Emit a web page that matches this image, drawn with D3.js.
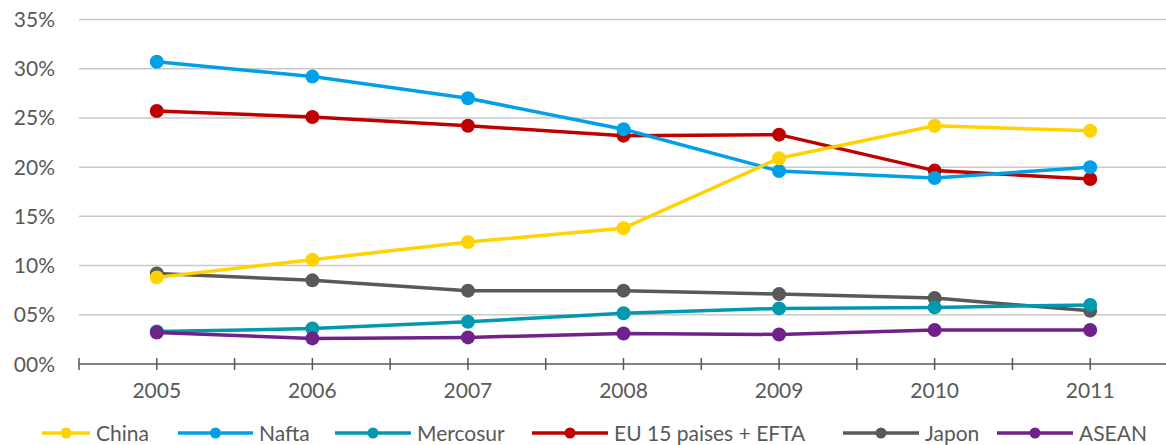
<!DOCTYPE html>
<html>
<head>
<meta charset="utf-8">
<script src="https://cdn.jsdelivr.net/npm/d3@7"></script>
<style>
  body { margin: 0; background: #fff; }
  text { font-family: "Lato", "DejaVu Sans", sans-serif; fill: #595959; }
</style>
</head>
<body>
<svg id="chart" width="1166" height="445"></svg>
<script>
// data
let years = ["2005", "2006", "2007", "2008", "2009", "2010", "2011"];
let yTicks = [0, 5, 10, 15, 20, 25, 30, 35];
let yTickLabels = ["00%", "05%", "10%", "15%", "20%", "25%", "30%", "35%"];

let china = [8.8, 10.6, 12.4, 13.8, 20.9, 24.2, 23.7];
let nafta = [30.7, 29.2, 27.0, 23.85, 19.6, 18.9, 20.0];
let mercosur = [3.3, 3.6, 4.3, 5.15, 5.65, 5.75, 6.0];
let eu = [25.7, 25.1, 24.2, 23.2, 23.3, 19.65, 18.8];
let japon = [9.2, 8.5, 7.45, 7.45, 7.1, 6.7, 5.4];
let asean = [3.2, 2.6, 2.7, 3.1, 3.0, 3.45, 3.45];

let seriesNames = ["China", "Nafta", "Mercosur", "EU 15 paises + EFTA", "Japon", "ASEAN"];
let seriesValues = [china, nafta, mercosur, eu, japon, asean];
let seriesColors = ["#ffd200", "#00a0e6", "#0099b0", "#c00000", "#595959", "#70228a"];
// order in which lines are painted (bottom first)
let drawOrder = [4, 3, 1, 0, 2, 5];

let svg = d3.select("#chart");

let x = d3.scaleBand()
    .domain(years)
    .range([79, 1168]);

let y = d3.scaleLinear()
    .domain([0, 35])
    .range([364, 19.5]);

// gridlines
svg.append("g")
    .selectAll("line")
    .data(yTicks.filter(d => d > 0))
    .join("line")
    .attr("x1", 79)
    .attr("x2", 1166)
    .attr("y1", d => y(d))
    .attr("y2", d => y(d))
    .attr("stroke", "#c9c9c9")
    .attr("stroke-width", 1.5);

// y labels
svg.append("g")
    .selectAll("text")
    .data(yTicks)
    .join("text")
    .attr("x", 55)
    .attr("y", d => y(d))
    .attr("dy", "0.36em")
    .attr("text-anchor", "end")
    .style("font-size", "21px")
    .text((d, i) => yTickLabels[i]);

// x axis with ticks at band edges and centres
let xAxis = svg.append("g");
xAxis.append("line")
    .attr("x1", 79).attr("x2", 1166)
    .attr("y1", y(0)).attr("y2", y(0))
    .attr("stroke", "#595959").attr("stroke-width", 1.5);

let tickXs = years.map(d => x(d)).concat(years.map(d => x(d) + x.bandwidth() / 2));
xAxis.selectAll("line.tick")
    .data(tickXs)
    .join("line")
    .attr("class", "tick")
    .attr("x1", d => d).attr("x2", d => d)
    .attr("y1", y(0) - 6).attr("y2", y(0) + 6)
    .attr("stroke", "#595959").attr("stroke-width", 1.5);

xAxis.selectAll("text")
    .data(years)
    .join("text")
    .attr("x", d => x(d) + x.bandwidth() / 2)
    .attr("y", 398)
    .attr("text-anchor", "middle")
    .style("font-size", "21px")
    .text(d => d);

let line = d3.line()
    .x((d, i) => x(years[i]) + x.bandwidth() / 2)
    .y(d => y(d));

let plot = svg.append("g");
drawOrder.forEach(k => {
    let g = plot.append("g");
    g.append("path")
        .attr("d", line(seriesValues[k]))
        .attr("fill", "none")
        .attr("stroke", seriesColors[k])
        .attr("stroke-width", 3.5)
        .attr("stroke-linejoin", "round");
    g.selectAll("circle")
        .data(seriesValues[k])
        .join("circle")
        .attr("cx", (d, i) => x(years[i]) + x.bandwidth() / 2)
        .attr("cy", d => y(d))
        .attr("r", 7)
        .attr("fill", seriesColors[k]);
});

// legend
let legendY = 433;
let legendStarts = [42, 178, 335, 532, 843, 997];
let legendLens = [48, 75, 76, 76, 76, 76];
let legend = svg.append("g");
seriesNames.forEach((name, i) => {
    let x0 = legendStarts[i];
    let len = legendLens[i];
    legend.append("line")
        .attr("x1", x0).attr("x2", x0 + len)
        .attr("y1", legendY).attr("y2", legendY)
        .attr("stroke", seriesColors[i]).attr("stroke-width", 3.5);
    legend.append("circle")
        .attr("cx", x0 + len / 2).attr("cy", legendY)
        .attr("r", 5.5)
        .attr("fill", seriesColors[i]);
    legend.append("text")
        .attr("x", x0 + len + 6)
        .attr("y", legendY)
        .attr("dy", "0.36em")
        .style("font-size", "21px")
        .text(name);
});
</script>
</body>
</html>
